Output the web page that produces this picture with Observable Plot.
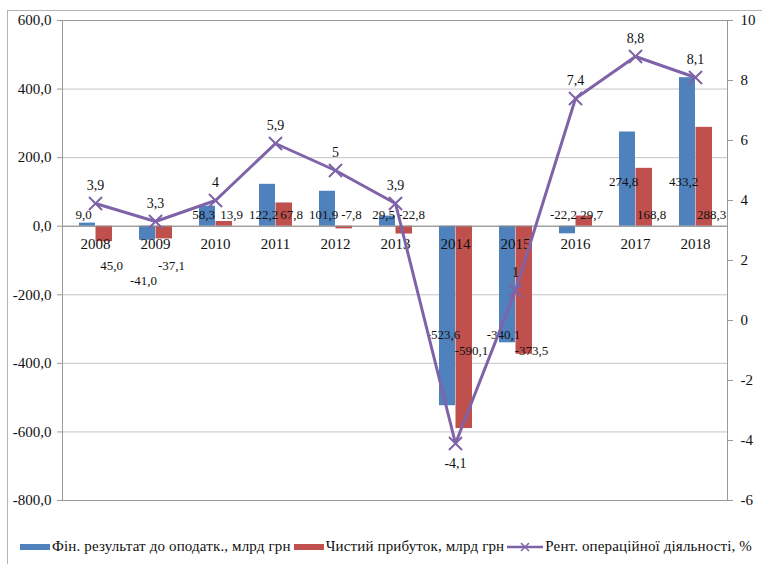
<!DOCTYPE html>
<html><head><meta charset="utf-8">
<script src="https://cdn.jsdelivr.net/npm/d3@7"></script>
<script src="https://cdn.jsdelivr.net/npm/@observablehq/plot@0.6"></script>
<style>
body{margin:0;background:#fff;font-family:'Liberation Serif','DejaVu Serif',serif;}
#wrap{position:relative;width:762px;height:564px;overflow:hidden;background:#fff;}
#frame{position:absolute;left:7px;top:10px;width:770px;height:570px;border:1px solid #b4b4b4;}
#chart{position:absolute;left:0;top:0;}
#legend{position:absolute;left:20px;top:538px;display:flex;align-items:center;font-size:15px;letter-spacing:0.15px;white-space:nowrap;color:#111;}
#legend .sw{display:inline-block;width:30px;height:6px;margin-right:2px;}
#legend .item{display:flex;align-items:center;margin-right:3px;}
</style></head>
<body><div id="wrap"><div id="frame"></div><div id="chart"></div><div id="legend"></div></div>
<script>
const years = ["2008","2009","2010","2011","2012","2013","2014","2015","2016","2017","2018"];
const finResult = [9.0,-41.0,58.3,122.2,101.9,29.5,-523.6,-340.1,-22.2,274.8,433.2];
const netProfit = [-45.0,-37.1,13.9,67.8,-7.8,-22.8,-590.1,-373.5,29.7,168.8,288.3];
const profitability = [3.9,3.3,4,5.9,5,3.9,-4.1,1,7.4,8.8,8.1];
const finLabels = ["9,0","-41,0","58,3","122,2","101,9","29,5","-523,6","-340,1","-22,2","274,8","433,2"];
const netLabels = ["45,0","-37,1","13,9","67,8","-7,8","-22,8","-590,1","-373,5","29,7","168,8","288,3"];
const profLabels = ["3,9","3,3","4","5,9","5","3,9","-4,1","1","7,4","8,8","8,1"];
const leftTicks = [-800,-600,-400,-200,0,200,400,600];
const rightTicks = [-6,-4,-2,0,2,4,6,8,10];
const seriesNames = ["Фін. результат  до оподатк., млрд грн","Чистий прибуток, млрд грн","Рент. операційної діяльності, %"];
const colors = ["#4f81bd","#c0504d","#7f63a9"];

const FONT = "'Liberation Serif','DejaVu Serif',serif";
const toLeft = d3.scaleLinear().domain([-6,10]).range([-800,600]);
const data = years.map((y,i)=>({year:y, fin:finResult[i], net:netProfit[i], prof:profitability[i], finL:finLabels[i], netL:netLabels[i], profL:profLabels[i]}));
const rightMap = new Map(rightTicks.map(t=>[toLeft(t), t]));
const fmtLeft = d => d.toFixed(1).replace(".", ",");
const txt = {fontSize: 13, fill: "#111"};

// Excel-like label placement groups: [filter, anchor value, dy]
const blueGroups = [
  [v => v >= -30 && v < 200, 0, -11],
  [v => v >= 200, 0, -44],
  [v => v < -30 && v >= -300, 0, 55],
  [v => v < -300, -300, 6]
];
const redGroups = [
  [v => v >= -30, 0, -11],
  [v => v < -30 && v >= -300, 0, 40],
  [v => v < -300, -300, 22]
];
const labelMarks = [
  ...blueGroups.map(([f, a, dy]) => Plot.text(data.filter(d => f(d.fin)), {x: "year", y: () => a, dy, dx: -12, text: "finL", ...txt})),
  ...redGroups.map(([f, a, dy]) => Plot.text(data.filter(d => f(d.net)), {x: "year", y: () => a, dy, dx: 16, text: "netL", ...txt}))
];

const c = Plot.plot({
  width: 762, height: 522,
  marginLeft: 62, marginRight: 35, marginTop: 20, marginBottom: 22,
  style: {fontFamily: FONT, fontSize: "14px", color: "#111", background: "transparent"},
  x: {type: "band", domain: years, padding: 0, axis: null},
  y: {domain: [-800, 600], axis: null},
  marks: [
    Plot.ruleY(leftTicks, {stroke: "#c4c4c4", strokeWidth: 1}),
    Plot.barY(data, {x: "year", y: "fin", fill: colors[0], insetLeft: 14, insetRight: 30}),
    Plot.barY(data, {x: "year", y: "net", fill: colors[1], insetLeft: 30.5, insetRight: 13}),
    Plot.ruleY([0], {stroke: "#8a8a8a", strokeWidth: 1}),
    Plot.frame({stroke: "#9a9a9a"}),
    Plot.axisY(leftTicks, {anchor: "left", tickSize: 5, tickPadding: 6, tickFormat: fmtLeft, fontSize: 15, stroke: "#9a9a9a"}),
    Plot.axisY(rightTicks.map(toLeft), {anchor: "right", tickSize: 5, tickPadding: 8, tickFormat: d => String(rightMap.get(d)), fontSize: 15, stroke: "#9a9a9a"}),
    Plot.text(data, {x: "year", y: () => 0, dy: 18, text: "year", ...txt, fontSize: 15}),
    ...labelMarks,
    Plot.line(data, {x: "year", y: d => toLeft(d.prof), stroke: colors[2], strokeWidth: 3}),
    Plot.dot(data, {x: "year", y: d => toLeft(d.prof), symbol: "times", r: 6, stroke: colors[2], strokeWidth: 2}),
    Plot.text(data.filter(d => d.prof >= 0), {x: "year", y: d => toLeft(d.prof), dy: -18, text: "profL", ...txt, fontSize: 14}),
    Plot.text(data.filter(d => d.prof < 0), {x: "year", y: d => toLeft(d.prof), dy: 20, text: "profL", ...txt, fontSize: 14})
  ]
});
document.getElementById("chart").append(c);

const lg = document.getElementById("legend");
seriesNames.forEach((name, i) => {
  const item = document.createElement("span");
  item.className = "item";
  if (i < 2) {
    item.innerHTML = `<span class="sw" style="background:${colors[i]}"></span>`;
  } else {
    item.innerHTML = `<svg width="36" height="12" style="margin-right:2px"><line x1="0" y1="6" x2="36" y2="6" stroke="${colors[2]}" stroke-width="2.5"/><path d="M14,2L22,10M22,2L14,10" stroke="${colors[2]}" stroke-width="1.5"/></svg>`;
  }
  item.append(document.createTextNode(name));
  lg.append(item);
});
</script>
</body></html>
